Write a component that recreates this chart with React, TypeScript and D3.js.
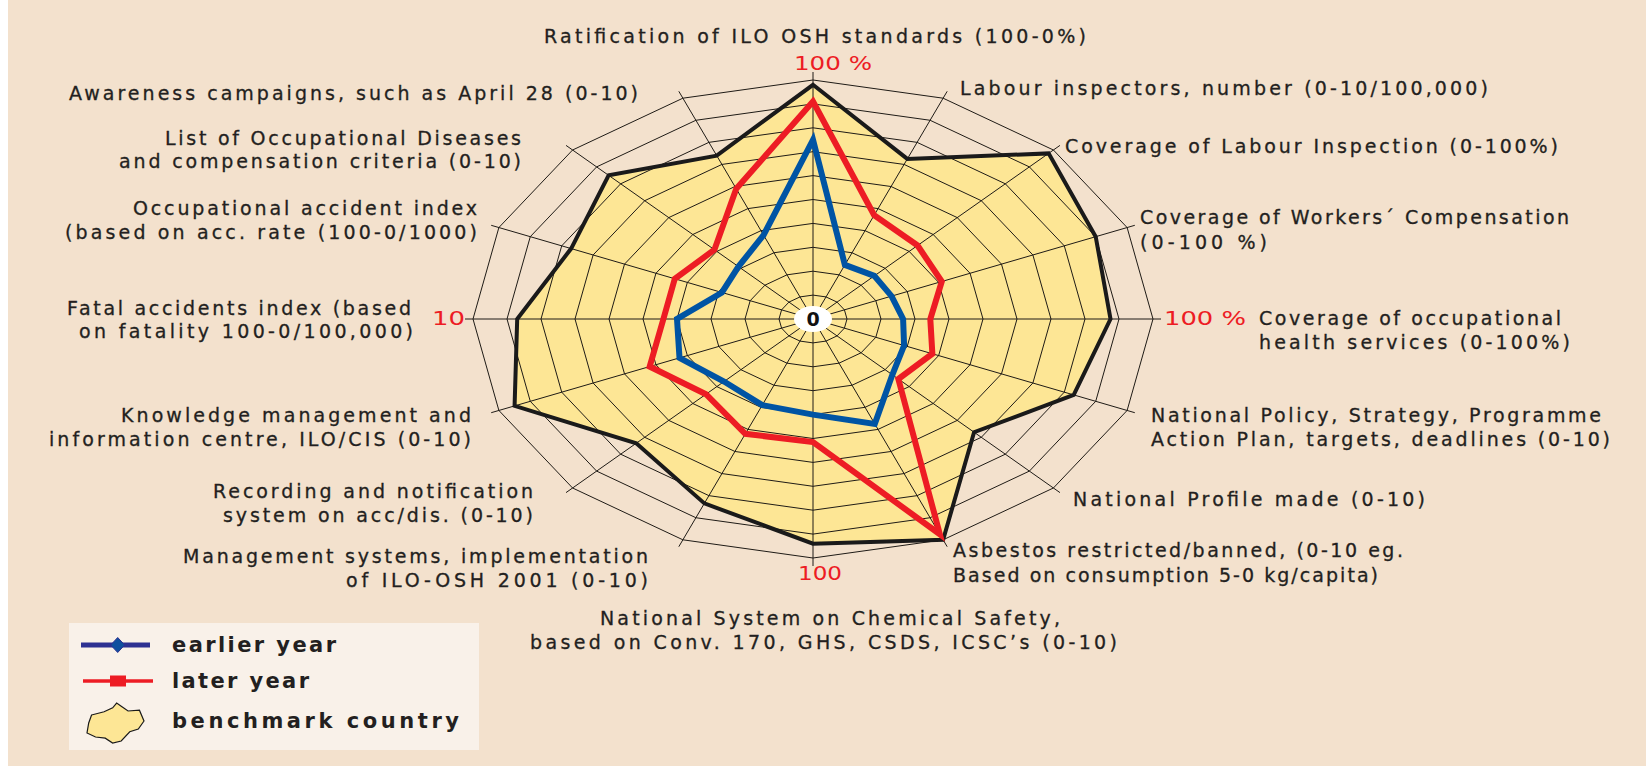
import React from 'react';
import * as d3 from 'd3';

// ---------- data ----------
const categories: string[][] = [
  ['Ratification of ILO OSH standards (100-0%)'],
  ['Labour inspectors, number (0-10/100,000)'],
  ['Coverage of Labour Inspection (0-100%)'],
  ['Coverage of Workers´ Compensation', '(0-100 %)'],
  ['Coverage of occupational', 'health services (0-100%)'],
  ['National Policy, Strategy, Programme', 'Action Plan, targets, deadlines (0-10)'],
  ['National Profile made (0-10)'],
  ['Asbestos restricted/banned, (0-10 eg.', 'Based on consumption 5-0 kg/capita)'],
  ['National System on Chemical Safety,', 'based on Conv. 170, GHS, CSDS, ICSC’s  (0-10)'],
  ['Management systems, implementation', 'of ILO-OSH 2001 (0-10)'],
  ['Recording and notification', 'system on acc/dis. (0-10)'],
  ['Knowledge management and', 'information centre, ILO/CIS (0-10)'],
  ['Fatal accidents index (based', 'on fatality 100-0/100,000)'],
  ['Occupational accident index', '(based on acc. rate (100-0/1000)'],
  ['List of Occupational Diseases', 'and compensation criteria (0-10)'],
  ['Awareness campaigns, such as April 28 (0-10)'],
];

const benchmark = [9.8, 7.25, 9.8, 9.0, 8.75, 8.3, 6.7, 10.0, 9.4, 8.35, 7.35, 9.5, 8.7, 7.7, 8.5, 7.4];
const laterYear = [9.1, 4.7, 4.35, 4.1, 3.45, 3.8, 3.55, 9.75, 5.15, 5.2, 4.45, 5.2, 4.4, 4.4, 4.1, 5.9];
const earlierYear = [7.5, 2.45, 2.55, 2.5, 2.65, 2.9, 3.3, 4.75, 4.0, 3.9, 3.7, 4.25, 4.0, 2.9, 3.1, 3.8];

const tickLabels = ['100 %', '100 %', '100', '10'];
const tickAxes = [0, 4, 8, 12];
const ringValues = [1, 2, 3, 4, 5, 6, 7, 8, 9, 10];

const legendItems = ['earlier year', 'later year', 'benchmark country'];

// ---------- layout ----------
const W = 1646;
const H = 766;
const cx = 813;
const cy = 319;
const rx = 340;
const ry = 239;

type LabelLayout = { x: number; ys: number[]; anchor: 'start' | 'end'; widths: number[]; xs?: number[] };
const labelLayout: LabelLayout[] = [
  { x: 544, ys: [43], anchor: 'start', widths: [542] },
  { x: 960, ys: [95], anchor: 'start', widths: [528] },
  { x: 1065, ys: [153], anchor: 'start', widths: [493] },
  { x: 1140, ys: [224, 249], anchor: 'start', widths: [429, 127] },
  { x: 1259, ys: [325, 349], anchor: 'start', widths: [302, 311] },
  { x: 1151, ys: [422, 446], anchor: 'start', widths: [450, 459] },
  { x: 1073, ys: [506], anchor: 'start', widths: [352] },
  { x: 953, ys: [557, 582], anchor: 'start', widths: [450, 425] },
  { x: 600, xs: [600, 530], ys: [625, 649], anchor: 'start', widths: [460, 587] },
  { x: 648, ys: [563, 587], anchor: 'end', widths: [465, 302] },
  { x: 533, ys: [498, 522], anchor: 'end', widths: [320, 310] },
  { x: 471, ys: [422, 446], anchor: 'end', widths: [350, 422] },
  { x: 411, xs: [411, 413], ys: [315, 338], anchor: 'end', widths: [344, 334] },
  { x: 477, ys: [215, 239], anchor: 'end', widths: [344, 412] },
  { x: 521, ys: [145, 168], anchor: 'end', widths: [356, 402] },
  { x: 69, ys: [100], anchor: 'start', widths: [569] },
];

const tickLayout = [
  { x: 794, y: 70, w: 78 },
  { x: 1164, y: 325, w: 82 },
  { x: 798, y: 580, w: 44 },
  { x: 432, y: 325, w: 33 },
];

const FONT = "'DejaVu Sans', 'Liberation Sans', Arial, sans-serif";

const rScale = d3.scaleLinear().domain([0, 10]).range([0, 1]);
const aScale = d3.scaleLinear().domain([0, categories.length]).range([0, 2 * Math.PI]);

const px = (i: number, v: number) => cx + rx * rScale(v) * Math.sin(aScale(i));
const py = (i: number, v: number) => cy - ry * rScale(v) * Math.cos(aScale(i));

const polyLine = d3
  .line<number>()
  .x((v, i) => px(i, v))
  .y((v, i) => py(i, v))
  .curve(d3.curveLinearClosed);

const blobShape: [number, number][] = [
  [0.08, 0.3], [0.3, 0.22], [0.45, 0.12], [0.52, 0.0], [0.62, 0.1], [0.72, 0.2],
  [0.92, 0.18], [1.0, 0.45], [0.9, 0.65], [0.75, 0.72], [0.6, 0.95], [0.45, 1.0],
  [0.32, 0.88], [0.15, 0.85], [0.0, 0.75], [0.03, 0.5],
];

export default function App() {
  const n = categories.length;
  const idx = d3.range(n);

  const ringPath = (v: number) =>
    d3
      .line<number>()
      .x((i) => px(i, v))
      .y((i) => py(i, v))
      .curve(d3.curveLinearClosed)(idx) as string;

  const ext = 8;
  const spokes = idx.map((i) => {
    const dx = rx * Math.sin(aScale(i));
    const dy = -ry * Math.cos(aScale(i));
    const len = Math.hypot(dx, dy);
    return { x2: cx + dx + (dx / len) * ext, y2: cy + dy + (dy / len) * ext };
  });

  const blobX = d3.scaleLinear().domain([0, 1]).range([87, 144]);
  const blobY = d3.scaleLinear().domain([0, 1]).range([703, 743]);
  const blobPath = d3
    .line<[number, number]>()
    .x((d) => blobX(d[0]))
    .y((d) => blobY(d[1]))
    .curve(d3.curveLinearClosed)(blobShape) as string;

  const legendY = [645, 681, 723];

  return (
    <div style={{ position: 'absolute', left: 0, top: 0 }}>
      <svg width={W} height={H} style={{ display: 'block' }}>
        <rect x={0} y={0} width={W} height={H} fill="#ffffff" />
        <rect x={8} y={0} width={W - 8} height={H} fill="#f3e1cd" />

        <path d={polyLine(benchmark) as string} fill="#fde695" stroke="none" />

        <g fill="none" stroke="#1f1b16" strokeWidth={1}>
          {ringValues.map((v) => (
            <path key={v} d={ringPath(v)} />
          ))}
          {spokes.map((s, i) => (
            <line key={i} x1={cx} y1={cy} x2={s.x2} y2={s.y2} />
          ))}
        </g>

        <path d={polyLine(benchmark) as string} fill="none" stroke="#1a1a1a" strokeWidth={4} strokeLinejoin="miter" />
        <path d={polyLine(laterYear) as string} fill="none" stroke="#ed1c24" strokeWidth={6} strokeLinejoin="miter" />
        <path d={polyLine(earlierYear) as string} fill="none" stroke="#0054a4" strokeWidth={6} strokeLinejoin="miter" />

        <ellipse cx={cx} cy={cy} rx={19} ry={13} fill="#ffffff" />
        <text x={cx} y={cy + 6.5} textAnchor="middle" fontFamily={FONT} fontWeight="bold" fontSize={19} fill="#111">
          0
        </text>

        {tickLabels.map((t, k) => (
          <text
            key={k}
            x={tickLayout[k].x}
            y={tickLayout[k].y}
            fontFamily={FONT}
            fontSize={19}
            fill="#ed1c24"
            textLength={tickLayout[k].w}
            lengthAdjust="spacingAndGlyphs"
            data-axis={tickAxes[k]}
          >
            {t}
          </text>
        ))}

        {categories.map((lines, i) => {
          const L = labelLayout[i];
          return (
            <g key={i}>
              {lines.map((ln, j) => (
                <text
                  key={j}
                  x={L.xs ? L.xs[j] : L.x}
                  y={L.ys[j]}
                  textAnchor={L.anchor}
                  fontFamily={FONT}
                  fontSize={19}
                  fill="#231f20"
                  stroke="#231f20"
                  strokeWidth={0.3}
                  textLength={L.widths[j]}
                  lengthAdjust="spacing"
                >
                  {ln}
                </text>
              ))}
            </g>
          );
        })}

        <rect x={69} y={623} width={410} height={127} fill="#f9f1e9" />
        <line x1={81} y1={legendY[0]} x2={150} y2={legendY[0]} stroke="#2e3192" strokeWidth={5} />
        <path
          d={`M${117.7},${legendY[0] - 7.5} L${124.7},${legendY[0]} L${117.7},${legendY[0] + 7.5} L${110.7},${legendY[0]} Z`}
          fill="#0f4f9e"
          stroke="#2e3192"
          strokeWidth={1}
        />
        <line x1={83} y1={legendY[1]} x2={153} y2={legendY[1]} stroke="#ed1c24" strokeWidth={3.5} />
        <rect x={110} y={legendY[1] - 5.5} width={16} height={11} fill="#ed1c24" />
        <path d={blobPath} fill="#fde695" stroke="#1a1a1a" strokeWidth={1.2} />
        {legendItems.map((t, k) => (
          <text
            key={k}
            x={172}
            y={[652, 688, 728][k]}
            fontFamily={FONT}
            fontWeight="bold"
            fontSize={21}
            fill="#231f20"
            textLength={[164, 137, 287][k]}
            lengthAdjust="spacing"
          >
            {t}
          </text>
        ))}
      </svg>
    </div>
  );
}
